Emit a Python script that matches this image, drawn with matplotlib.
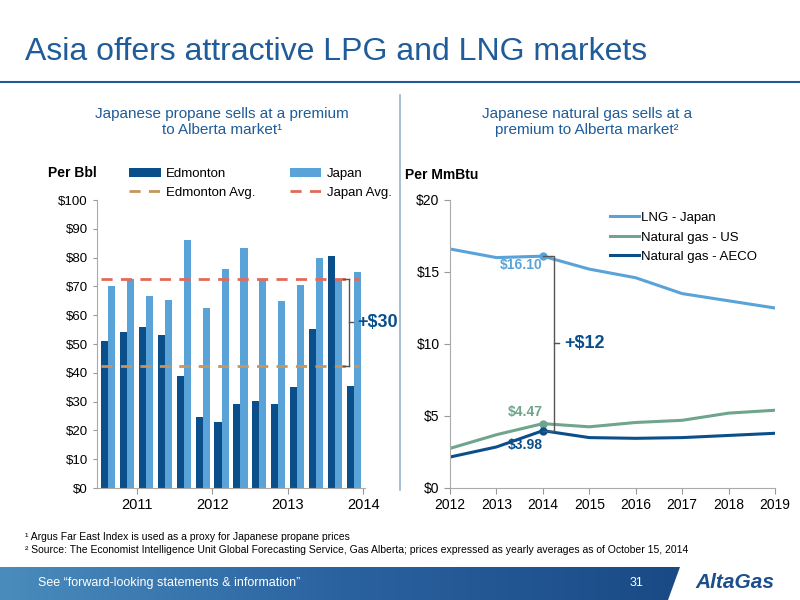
import matplotlib
matplotlib.use("Agg")
import matplotlib.pyplot as plt
import numpy as np
from matplotlib.patches import Polygon
from matplotlib.lines import Line2D
from matplotlib.colors import LinearSegmentedColormap

quarters = list(range(14))
edmonton = [51, 54, 56, 53, 39, 24.5, 22.8, 29, 30.3, 29.2, 35, 55.3, 80.5, 35.3]
japan = [70, 72.5, 66.7, 65.4, 86, 62.5, 76, 83.5, 72.5, 65, 70.5, 80, 72.5, 75]
edm_avg = 42.5
jpn_avg = 72.7
year_labels = ["2011", "2012", "2013", "2014"]

years = [2012, 2013, 2014, 2015, 2016, 2017, 2018, 2019]
lng_japan = [16.6, 16.0, 16.1, 15.2, 14.6, 13.5, 13.0, 12.5]
gas_us = [2.75, 3.7, 4.47, 4.25, 4.55, 4.7, 5.2, 5.4]
gas_aeco = [2.15, 2.85, 3.98, 3.5, 3.45, 3.5, 3.65, 3.8]

plt.rcParams['font.family'] = ['Liberation Sans', 'DejaVu Sans']
DARK = "#0B4F8A"
LIGHT = "#5AA3D9"
GREEN = "#6FA58C"
TITLE = "#1F5C99"

fig = plt.figure(figsize=(8, 6), dpi=100)
W, H = 800, 600
def fx(x): return x / W
def fy(y): return 1 - y / H

fig.text(fx(25), fy(52), "Asia offers attractive LPG and LNG markets", fontsize=23, color=TITLE, va="center")
fig.add_artist(Line2D([fx(0), fx(800)], [fy(82), fy(82)], color="#1F5C99", lw=1.5))
fig.add_artist(Line2D([fx(400), fx(400)], [fy(95), fy(490)], color="#9BB3C9", lw=1.2))

fig.text(fx(222), fy(122), "Japanese propane sells at a premium\nto Alberta market\u00b9", ha="center", va="center",
         fontsize=11, color=TITLE)
fig.text(fx(587), fy(122), "Japanese natural gas sells at a\npremium to Alberta market\u00b2", ha="center", va="center",
         fontsize=11, color=TITLE)

# left chart
ax1 = fig.add_axes([fx(97), fy(488), fx(365 - 97), (488 - 200) / H])
x = np.array(quarters)
w = 0.38
h1 = ax1.bar(x - w / 2, edmonton, w, color=DARK, label="Edmonton")
h2 = ax1.bar(x + w / 2, japan, w, color=LIGHT, label="Japan")
h3, = ax1.plot([-0.4, 13.3], [edm_avg] * 2, ls=(0, (4, 3)), color="#C8955A", lw=2, label="Edmonton Avg.")
h4, = ax1.plot([-0.4, 13.3], [jpn_avg] * 2, ls=(0, (4, 3)), color="#E26A5A", lw=2, label="Japan Avg.")
ax1.set_xlim(-0.6, 13.6)
ax1.set_ylim(0, 100)
ax1.set_yticks(range(0, 101, 10))
ax1.set_yticklabels([f"${v}" for v in range(0, 101, 10)], fontsize=9.5)
ax1.set_xticks([1.5, 5.5, 9.5, 13.5])
ax1.set_xticklabels(year_labels, fontsize=10.5)
ax1.tick_params(axis="x", length=4, color="#999999", pad=3)
ax1.tick_params(axis="y", length=3, color="#999999")
for s in ["top", "right"]:
    ax1.spines[s].set_visible(False)
for s in ["left", "bottom"]:
    ax1.spines[s].set_color("#AAAAAA")
ax1.legend([h1, h3, h2, h4], ["Edmonton", "Edmonton Avg.", "Japan", "Japan Avg."],
           loc="lower left", bbox_to_anchor=(0.1, 0.985), ncol=2, frameon=False, fontsize=9.5,
           handlelength=2.4, columnspacing=2.6, borderaxespad=0, handletextpad=0.4, labelspacing=0.5)
fig.text(fx(48), fy(173), "Per Bbl", fontsize=10, fontweight="bold", va="center")
# bracket
bx = fx(343); bx2 = fx(349)
ytop = fy(488 - jpn_avg * 2.88); ybot = fy(488 - edm_avg * 2.88)
for seg in [([bx, bx2], [ytop, ytop]), ([bx2, bx2], [ytop, ybot]), ([bx, bx2], [ybot, ybot]),
            ([bx2, fx(353)], [(ytop + ybot) / 2] * 2)]:
    fig.add_artist(Line2D(*seg, color="#555555", lw=1))
fig.text(fx(357), (ytop + ybot) / 2, "+$30", fontsize=13, fontweight="bold", color=DARK, va="center")

# right chart
ax2 = fig.add_axes([fx(450), fy(488), fx(775 - 450), (488 - 200) / H])
ax2.plot(years, lng_japan, color=LIGHT, lw=2.2, label="LNG - Japan")
ax2.plot(years, gas_us, color=GREEN, lw=2.2, label="Natural gas - US")
ax2.plot(years, gas_aeco, color=DARK, lw=2.2, label="Natural gas - AECO")
i = years.index(2014)
ax2.plot([2014], [lng_japan[i]], "o", color=LIGHT, ms=5)
ax2.plot([2014], [gas_us[i]], "o", color=GREEN, ms=5)
ax2.plot([2014], [gas_aeco[i]], "o", color=DARK, ms=5)
ax2.text(2014, lng_japan[i] - 0.9, f"${lng_japan[i]:.2f}", color=LIGHT, fontsize=10, fontweight="bold", ha="right")
ax2.text(2014, gas_us[i] + 0.5, f"${gas_us[i]:.2f}", color=GREEN, fontsize=10, fontweight="bold", ha="right")
ax2.text(2014, gas_aeco[i] - 1.3, f"${gas_aeco[i]:.2f}", color=DARK, fontsize=10, fontweight="bold", ha="right")
ax2.plot([2014, 2014.25, 2014.25, 2014], [lng_japan[i], lng_japan[i], gas_aeco[i], gas_aeco[i]], color="#555555", lw=1)
mid = (lng_japan[i] + gas_aeco[i]) / 2
ax2.plot([2014.25, 2014.35], [mid, mid], color="#555555", lw=1)
ax2.text(2014.45, mid, "+$12", fontsize=13, fontweight="bold", color=DARK, va="center")
ax2.set_xlim(2012, 2019)
ax2.set_ylim(0, 20)
ax2.set_xticks(years)
ax2.set_xticklabels([str(y) for y in years], fontsize=10)
ax2.set_yticks([0, 5, 10, 15, 20])
ax2.set_yticklabels(["$0", "$5", "$10", "$15", "$20"], fontsize=10)
ax2.tick_params(length=4, color="#999999")
for s in ["top", "right"]:
    ax2.spines[s].set_visible(False)
for s in ["left", "bottom"]:
    ax2.spines[s].set_color("#AAAAAA")
ax2.legend(loc="upper right", bbox_to_anchor=(0.98, 1.0), frameon=False, fontsize=9.5, handlelength=2.2,
           handletextpad=0.1, labelspacing=0.55)
fig.text(fx(405), fy(175), "Per MmBtu", fontsize=10, fontweight="bold", va="center")

fig.text(fx(25), fy(537), "\u00b9 Argus Far East Index is used as a proxy for Japanese propane prices", fontsize=7.5, va="center")
fig.text(fx(25), fy(550), "\u00b2 Source: The Economist Intelligence Unit Global Forecasting Service, Gas Alberta; prices expressed as yearly averages as of October 15, 2014",
         fontsize=7.5, va="center")

# footer band
grad = np.linspace(0, 1, 256).reshape(1, -1)
cmap = LinearSegmentedColormap.from_list("b", ["#4A8CBC", "#2A62A0", "#1A4A85"])
axf = fig.add_axes([0, 0, 1, fy(567)])
axf.set_xlim(0, 800); axf.set_ylim(600, 567)
axf.axis("off")
im = axf.imshow(grad, cmap=cmap, extent=[0, 680, 600, 567], aspect="auto")
clip = Polygon([[0, 567], [680, 567], [668, 600], [0, 600]], transform=axf.transData)
im.set_clip_path(clip)
axf.text(38, 583, "See \u201cforward-looking statements & information\u201d", color="white", fontsize=9, va="center")
axf.text(630, 583, "31", color="white", fontsize=9, va="center")
axf.text(735, 582, "AltaGas", color="#1D4F8B", fontsize=15, fontweight="bold", style="italic", va="center", ha="center")

fig.savefig("out.png", dpi=100)
